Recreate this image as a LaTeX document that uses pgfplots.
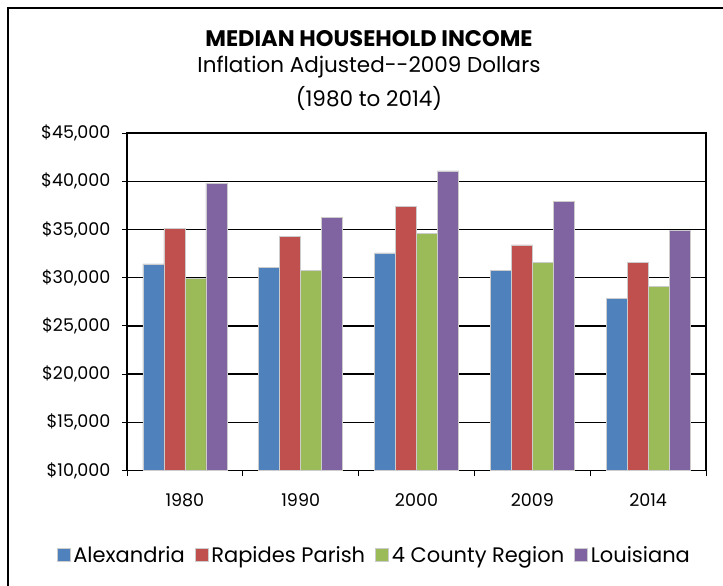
\documentclass[border=0pt]{standalone}
\usepackage{pgfplots}
\pgfplotsset{compat=1.18}
\usepackage{fontspec}
\setmainfont{Poppins}
\definecolor{cA}{HTML}{4F81BD}
\definecolor{cB}{HTML}{C0504D}
\definecolor{cC}{HTML}{9BBB59}
\definecolor{cD}{HTML}{8064A2}
\begin{document}
\begin{tikzpicture}
\useasboundingbox (0pt,0pt) rectangle (723pt,586pt);
\begin{scope}
\clip (0pt,0pt) rectangle (723pt,586pt);
\draw[line width=1.3pt] (8pt,-5pt) -- (8pt,578pt) -- (740pt,578pt);
\end{scope}
\node[font=\fontsize{22.5}{26}\selectfont\bfseries] at (369pt,547pt) {MEDIAN HOUSEHOLD INCOME};
\node[font=\fontsize{21.5}{26}\selectfont] at (369pt,519pt) {Inflation Adjusted-{}-2009 Dollars};
\node[font=\fontsize{21.5}{26}\selectfont] at (369pt,488pt) {(1980 to 2014)};
\begin{axis}[
  at={(127pt,115.5pt)}, anchor=south west,
  scale only axis, width=579pt, height=337.5pt,
  ybar=0pt, bar width=21pt,
  xmin=-0.5, xmax=4.5, ymin=10000, ymax=45000,
  xtick={0,...,4}, xticklabels={1980,1990,2000,2009,2014},
  minor xtick={-0.5,0.5,...,4.5},
  major x tick style={draw=none},
  xtick pos=bottom, ytick pos=left,
  ytick={10000,15000,...,45000},
  tick align=outside,
  minor tick length=6pt, major tick length=5pt,
  ymajorgrids, grid style={black, line width=1.3pt},
  axis line style={black, line width=1.3pt},
  tick style={black, line width=0.8pt},
  /pgf/number format/assume math mode=true,
  yticklabel={\$\pgfmathprintnumber[fixed,1000 sep={,}]{\tick}},
  ticklabel style={font=\fontsize{17.5}{20}\selectfont},
  yticklabel style={xshift=-8pt},
  xticklabel style={yshift=-15pt},
  scaled y ticks=false,
  legend columns=-1,
  legend style={at={(0.428,-0.25)}, anchor=center, draw=none, fill=none,
    font=\fontsize{21}{24}\selectfont,
    /tikz/every odd column/.append style={column sep=0pt},
    /tikz/every even column/.append style={column sep=7pt},
    /tikz/every node/.append style={inner xsep=3pt}},
  legend image code/.code={\fill[#1] (0pt,-6.5pt) rectangle (13pt,6.5pt);},
  every axis plot/.append style={draw=white!80!black, line width=0.6pt},
]
\addplot[fill=cA] coordinates {(0,31420) (1,31080) (2,32560) (3,30730) (4,27880)};
\addplot[fill=cB] coordinates {(0,35110) (1,34250) (2,37420) (3,33390) (4,31600)};
\addplot[fill=cC] coordinates {(0,29900) (1,30730) (2,34560) (3,31600) (4,29080)};
\addplot[fill=cD] coordinates {(0,39770) (1,36250) (2,41070) (3,37940) (4,34910)};
\legend{Alexandria, Rapides Parish, 4 County Region, Louisiana}
\end{axis}
\end{tikzpicture}
\end{document}
